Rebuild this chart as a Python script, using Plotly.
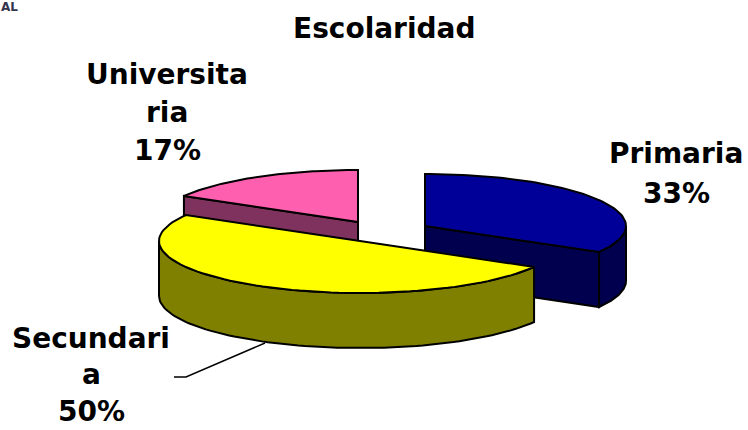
import numpy as np
import plotly.graph_objects as go

title = "Escolaridad"
categories = ["Primaria", "Secundaria", "Universitaria"]
shares = [2, 3, 1]
wrapped_labels = [["Primaria"], ["Secundari", "a"], ["Universita", "ria"]]
top_colors = ["#000099", "#FFFF00", "#FF5FAF"]
side_colors = ["#00004F", "#808000", "#80325F"]

W, H = 748, 430
RX, RY, DEPTH = 201, 52, 55
centers = [(425, 226), (360, 241), (358, 222)]
label_pos = [(676, 153, 40), (91, 338, 36.5), (167, 74, 38)]
FONT = "DejaVu Sans"
FSIZE = 28


def rim(c, a0, a1, dy=0, n=80):
    t = np.radians(np.linspace(a0, a1, n))
    return c[0] + RX * np.sin(t), c[1] - RY * np.cos(t) + dy


def poly(fig, x, y, color):
    fig.add_trace(go.Scatter(
        x=list(x) + [x[0]], y=list(y) + [y[0]], mode="lines", fill="toself",
        fillcolor=color, line=dict(color="black", width=2), hoverinfo="skip",
        showlegend=False))


def wall(fig, c, a0, a1, color):
    x0, y0 = rim(c, a0, a1)
    x1, y1 = rim(c, a1, a0, DEPTH)
    poly(fig, np.r_[x0, x1], np.r_[y0, y1], color)


def radial(fig, c, a, color):
    x, y = rim(c, a, a, n=1)
    poly(fig, [c[0], x[0], x[0], c[0]],
         [c[1], y[0], y[0] + DEPTH, c[1] + DEPTH], color)


def top(fig, c, a0, a1, color):
    x, y = rim(c, a0, a1)
    poly(fig, np.r_[c[0], x], np.r_[c[1], y], color)


fig = go.Figure()
edges = np.cumsum([0] + shares) / sum(shares) * 360

# back to front: Primaria, Universitaria, Secundaria
a0, a1 = edges[0], edges[1]
radial(fig, centers[0], a1, side_colors[0])
wall(fig, centers[0], 90, a1, side_colors[0])
top(fig, centers[0], a0, a1, top_colors[0])

a0, a1 = edges[2], edges[3]
radial(fig, centers[2], a0, side_colors[2])
top(fig, centers[2], a0, a1, top_colors[2])

a0, a1 = edges[1], edges[2]
wall(fig, centers[1], a0, 270, side_colors[1])
top(fig, centers[1], a0, a1, top_colors[1])

# leader line of the Secundaria label
fig.add_trace(go.Scatter(x=[174, 186, 265], y=[377, 377, 343], mode="lines",
                         line=dict(color="black", width=1.4), hoverinfo="skip",
                         showlegend=False))

for lines, s, (x, y, step) in zip(wrapped_labels, shares, label_pos):
    pct = f"{round(100 * s / sum(shares))}%"
    for i, text in enumerate(lines + [pct]):
        fig.add_annotation(x=x, y=y + i * step, xref="x", yref="y", showarrow=False,
                           text=f"<b>{text}</b>",
                           font=dict(family=FONT, size=FSIZE, color="black"))
fig.add_annotation(x=384, y=28, xref="x", yref="y", showarrow=False,
                   text=f"<b>{title}</b>",
                   font=dict(family=FONT, size=FSIZE, color="black"))
fig.add_annotation(x=9, y=7, xref="x", yref="y", showarrow=False,
                   text="<b>AL</b>",
                   font=dict(family=FONT, size=12, color="#33334d"))

fig.update_layout(
    width=W, height=H, margin=dict(l=0, r=0, t=0, b=0),
    paper_bgcolor="white", plot_bgcolor="white", showlegend=False,
    xaxis=dict(range=[0, W], visible=False, fixedrange=True),
    yaxis=dict(range=[H, 0], visible=False, fixedrange=True),
)
fig.write_html("out.html", config={"displayModeBar": False},
               post_script="document.body.style.margin='0';")
